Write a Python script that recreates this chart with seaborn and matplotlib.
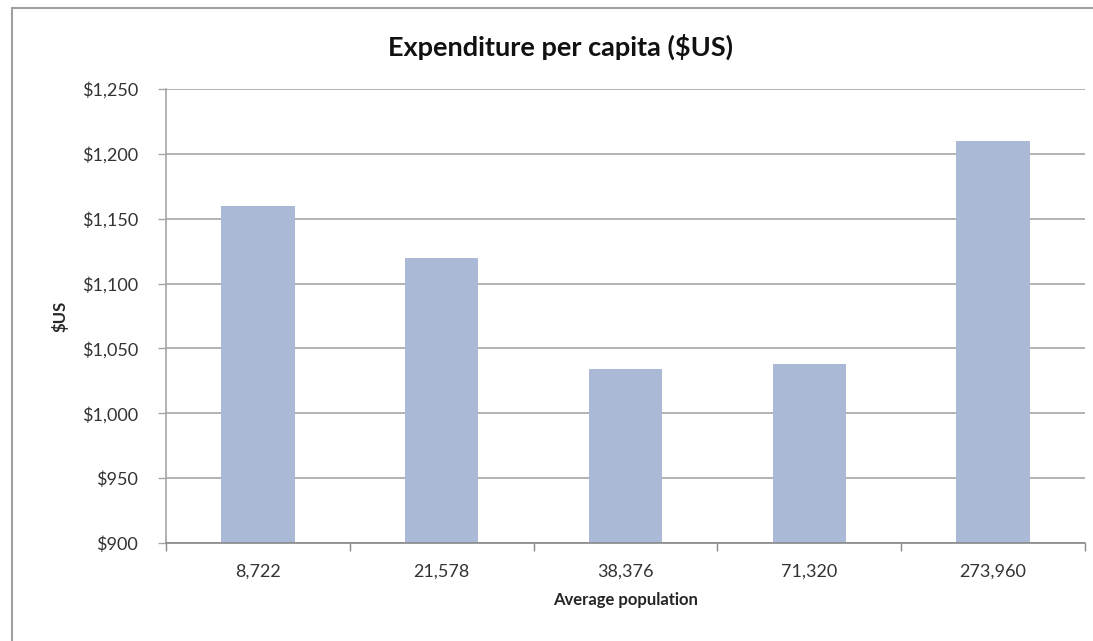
import matplotlib
matplotlib.use("Agg")
import matplotlib.pyplot as plt
import seaborn as sns
import pandas as pd
from matplotlib.lines import Line2D
from matplotlib.ticker import FuncFormatter, FixedLocator

# data
populations = ["8,722", "21,578", "38,376", "71,320", "273,960"]
expenditure = [1160, 1120, 1034, 1038, 1210]

df = pd.DataFrame({"Average population": populations, "$US": expenditure})

sns.set_theme(style="white")
plt.rcParams["font.family"] = ["Lato", "DejaVu Sans"]

fig = plt.figure(figsize=(10.93, 6.41), dpi=100)
ax = fig.add_axes([166 / 1093, 1 - 543 / 641, (1085 - 166) / 1093, (543 - 89) / 641])

sns.barplot(data=df, x="Average population", y="$US", color="#A9B9D6",
            width=0.4, saturation=1, linewidth=0, ax=ax, zorder=2)

ax.set_ylim(900, 1250)
ax.set_xlim(-0.5, len(populations) - 0.5)
ax.set_yticks(range(900, 1251, 50))
ax.yaxis.set_major_formatter(FuncFormatter(lambda v, p: f"${v:,.0f}"))
ax.grid(axis="y", color="#A6A6A6", linewidth=1.2, zorder=0)
ax.set_axisbelow(True)

# Excel-style: labels centred, tick marks between categories
ax.set_xticks(range(len(populations)))
ax.set_xticklabels(populations)
ax.xaxis.set_minor_locator(FixedLocator([i + 0.5 for i in range(-1, len(populations))]))
ax.tick_params(axis="x", which="major", length=0, pad=15, labelsize=13, colors="#333333")
ax.tick_params(axis="x", which="minor", length=6, width=1, color="#888888", direction="out", bottom=True)
ax.tick_params(axis="y", which="major", length=6, width=1, color="#A6A6A6", direction="out",
               left=True, pad=14, labelsize=13, labelcolor="#333333")

for side in ["top", "right"]:
    ax.spines[side].set_visible(False)
ax.spines["left"].set_color("#A6A6A6")
ax.spines["left"].set_linewidth(1.2)
ax.spines["bottom"].set_color("#888888")
ax.spines["bottom"].set_linewidth(1.2)

ax.set_xlabel("Average population", fontsize=12, fontweight="bold", labelpad=9)
ax.set_ylabel("$US", fontsize=12, fontweight="bold", labelpad=10)

fig.text(561 / 1093, 1 - 47 / 641, "Expenditure per capita ($US)", ha="center", va="center",
         fontsize=19.5, fontweight="bold", color="#111111")

# chart frame: only top and left edges are inside the picture
x0, y0 = 12 / 1093, 1 - 8 / 641
fig.add_artist(Line2D([x0, 1.0], [y0, y0], transform=fig.transFigure, color="#A0A0A0", linewidth=1.5))
fig.add_artist(Line2D([x0, x0], [0.0, y0], transform=fig.transFigure, color="#A0A0A0", linewidth=1.5))

fig.savefig("out.png", dpi=100)
